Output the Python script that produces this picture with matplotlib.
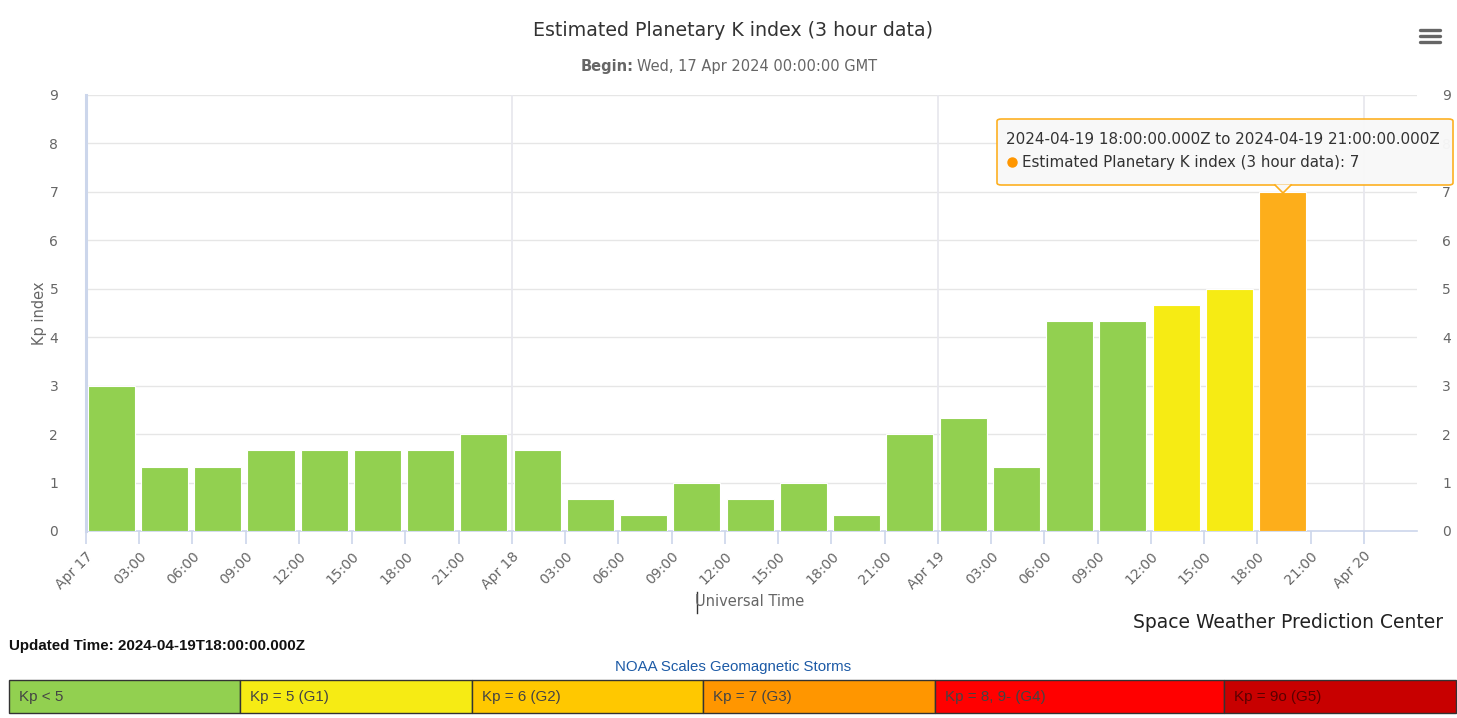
import numpy as np
import pandas as pd
import matplotlib
matplotlib.use("Agg")
import matplotlib.pyplot as plt
import matplotlib.dates as mdates
from matplotlib.patches import Rectangle, FancyBboxPatch, Polygon
from matplotlib.lines import Line2D

# Kp values, 3-hour intervals starting Wed 17 Apr 2024 00:00 UTC
kp_values = [3.00, 1.33, 1.33, 1.67, 1.67, 1.67, 1.67, 2.00,
             1.67, 0.67, 0.33, 1.00, 0.67, 1.00, 0.33, 2.00,
             2.33, 1.33, 4.33, 4.33, 4.67, 5.00, 7.00]
bar_colors = ["#92d050"] * 20 + ["#f6eb14", "#f6eb14", "#fdae1b"]
start = pd.Timestamp("2024-04-17 00:00")
times = pd.date_range(start, periods=len(kp_values), freq="3h")

# NOAA storm scale legend
scale_labels = ["Kp < 5", "Kp = 5 (G1)", "Kp = 6 (G2)", "Kp = 7 (G3)",
                "Kp = 8, 9- (G4)", "Kp = 9o (G5)"]
scale_colors = ["#92d050", "#f6eb14", "#ffc800", "#ff9600", "#ff0000", "#c80000"]
scale_edges_px = [9, 240, 472, 703, 935, 1224, 1456]

W, H = 1457, 718
fig = plt.figure(figsize=(W / 100, H / 100), dpi=100)

def fx(px):
    return px / W

def fy(py):
    return 1 - py / H

ax = fig.add_axes([fx(86), fy(531), fx(1417) - fx(86), fy(95) - fy(531)])

xmin = mdates.date2num(start)
xmax = mdates.date2num(pd.Timestamp("2024-04-20 03:00"))
hour = 1 / 24.0

ax.bar(mdates.date2num(times) + 0.1 * hour, kp_values, width=2.65 * hour,
       align="edge", color=bar_colors, edgecolor="white", linewidth=0.8, zorder=3)

ax.set_xlim(xmin, xmax)
ax.set_ylim(0, 9)
ax.set_yticks(range(0, 10))

# gridlines
for y in range(1, 10):
    ax.axhline(y, color="#e6e6e6", lw=1, zorder=1)
for d in ["2024-04-18", "2024-04-19", "2024-04-20"]:
    ax.axvline(mdates.date2num(pd.Timestamp(d)), color="#e8e8ee", lw=1.3, zorder=1)

for s in ["top", "right"]:
    ax.spines[s].set_visible(False)
ax.spines["left"].set_color("#ccd6eb")
ax.spines["left"].set_linewidth(2.2)
ax.spines["bottom"].set_color("#ccd6eb")
ax.spines["bottom"].set_linewidth(1.2)

tick_times = pd.date_range(start, pd.Timestamp("2024-04-20 00:00"), freq="3h")
tick_labels = [t.strftime("%b %d").replace(" 0", " ") if t.hour == 0 else t.strftime("%H:%M")
               for t in tick_times]
ax.set_xticks(mdates.date2num(tick_times))
ax.set_xticklabels(tick_labels, rotation=45, ha="right", rotation_mode="anchor")
ax.tick_params(axis="x", colors="#ccd6eb", length=9, width=1.2, labelcolor="#666666",
               labelsize=10, pad=4)
ax.tick_params(axis="y", length=0, labelcolor="#666666", labelsize=10, pad=20)
ax.set_ylabel("Kp index", color="#666666", fontsize=10.5)
ax.yaxis.set_label_coords(-0.0295, 0.5)

ax2 = ax.twinx()
ax2.set_ylim(0, 9)
ax2.set_yticks(range(0, 10))
ax2.tick_params(axis="y", length=0, labelcolor="#666666", labelsize=10, pad=18)
for s in ax2.spines.values():
    s.set_visible(False)

# titles
fig.text(fx(733), fy(31), "Estimated Planetary K index (3 hour data)", ha="center",
         va="center", fontsize=13.7, color="#333333")
fig.text(fx(634), fy(66), "Begin:", ha="right", va="center", fontsize=10.5,
         color="#666666", fontweight="bold")
fig.text(fx(637), fy(66), "Wed, 17 Apr 2024 00:00:00 GMT", ha="left", va="center",
         fontsize=10.5, color="#666666")

fig.text(fx(750), fy(602), "Universal Time", ha="center", va="center",
         fontsize=10.5, color="#666666")
fig.add_artist(Line2D([fx(697), fx(697)], [fy(592), fy(613)], color="#333333", lw=1))
fig.text(fx(1443), fy(622), "Space Weather Prediction Center", ha="right", va="center",
         fontsize=13.5, color="#222222")

# hamburger menu
for yy in [30, 36, 42]:
    fig.add_artist(Line2D([fx(1420), fx(1440)], [fy(yy), fy(yy)], color="#666666",
                          lw=2.4, solid_capstyle="round"))

# tooltip
tip = FancyBboxPatch((fx(997), fy(185)), fx(1453) - fx(997), fy(119) - fy(185),
                     boxstyle="round,pad=0,rounding_size=0.003",
                     transform=fig.transFigure, facecolor="#f8f8f8",
                     edgecolor="#fdae1b", lw=1.2, zorder=10, alpha=0.97)
fig.add_artist(tip)
fig.add_artist(Polygon([[fx(1275), fy(184.5)], [fx(1283), fy(193)], [fx(1291), fy(184.5)]],
                       closed=True, transform=fig.transFigure, facecolor="#f8f8f8",
                       edgecolor="none", zorder=11))
fig.add_artist(Line2D([fx(1275), fx(1283), fx(1291)], [fy(185), fy(193), fy(185)],
                      color="#fdae1b", lw=1.2, zorder=12))
fig.text(fx(1006), fy(139), "2024-04-19 18:00:00.000Z to 2024-04-19 21:00:00.000Z",
         ha="left", va="center", fontsize=10.9, color="#333333", zorder=13)
fig.add_artist(Line2D([fx(1012)], [fy(162)], marker="o", markersize=6.5,
                      color="#ff9600", zorder=13, lw=0))
fig.text(fx(1022), fy(162), "Estimated Planetary K index (3 hour data): 7",
         ha="left", va="center", fontsize=10.9, color="#333333", zorder=13)

# footer
fig.text(fx(9), fy(646), "Updated Time: 2024-04-19T18:00:00.000Z", ha="left", va="center",
         fontsize=10.9, fontweight="bold", family="Liberation Sans", color="#111111")
fig.text(fx(733), fy(667), "NOAA Scales Geomagnetic Storms", ha="center", va="center",
         fontsize=10.8, family="Liberation Sans", color="#1c5aa6")

for i, (lab, col) in enumerate(zip(scale_labels, scale_colors)):
    x0, x1 = scale_edges_px[i], scale_edges_px[i + 1]
    fig.add_artist(Rectangle((fx(x0), fy(713)), fx(x1) - fx(x0), fy(680) - fy(713),
                             transform=fig.transFigure, facecolor=col,
                             edgecolor="#333333", lw=1))
    fig.text(fx(x0 + 10), fy(696.5), lab, ha="left", va="center", fontsize=10.9,
             family="Liberation Sans", color="#444444" if i < 5 else "#5a0000")

fig.savefig("out.png", dpi=100)
